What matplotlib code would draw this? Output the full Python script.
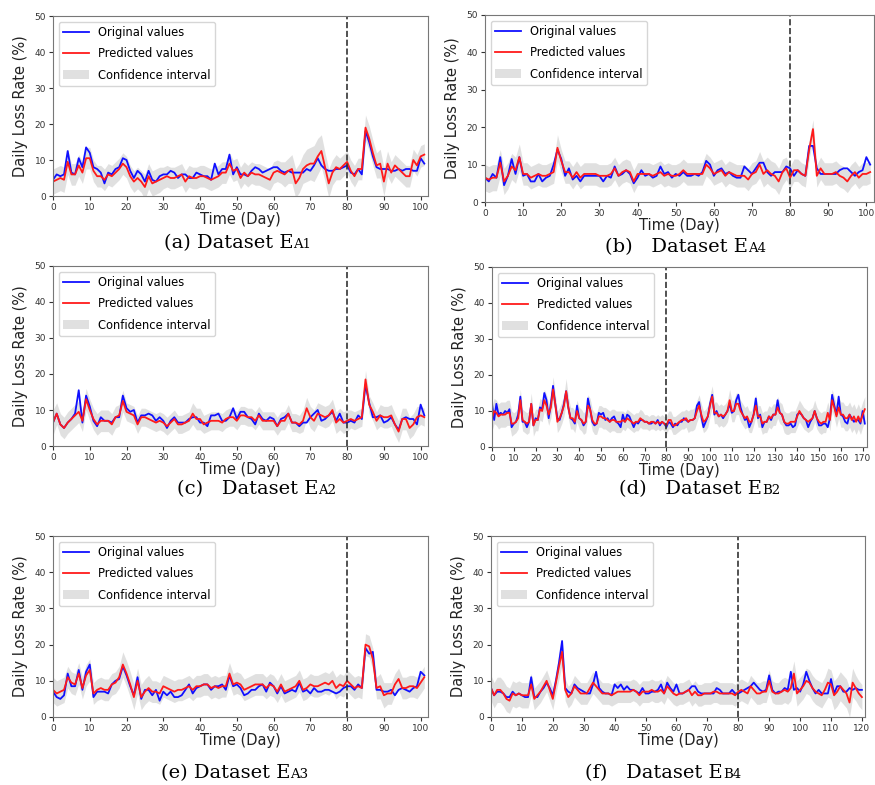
import numpy as np
import matplotlib
matplotlib.use('Agg')
import matplotlib.pyplot as plt

# ---- data (Daily Loss Rate, %) ----
a_orig = [4.5,6,5.5,6,12.5,6.5,6,10.5,8,13.5,
          12,8,7.5,6.5,3.5,6.5,6,7.5,8,10.5,
          10,7,5,7,6,4,7,4.5,4,5.5,
          6,6,7,6.5,5,6,6,5,5,6.5,
          6,5.5,5.5,4.5,9,6,7.5,7.5,11.5,6,
          8,6,6,5.5,7,8,7.5,6.5,7,7.5,
          8,8,7,6.5,7,6.5,6.5,6.5,6.5,7.5,
          7,8.5,10.5,8.5,7.5,7,7,7.5,7.5,8,
          8.5,6.5,6,7.5,6,18,15,11,8,7.5,
          7.5,7.5,7,7,7.5,7,7.5,7.5,7,7,
          10.5,9]
a_pred = [4,4.5,5,4.5,9.5,6,6,8.5,6.5,10.5,
          10.5,7,5.5,5.5,4.5,6,5.5,6.5,7.5,9,
          8,5.5,4,5,4,2.5,5.5,3.5,4,4.5,
          5,5.5,5,5,5.5,6,4,5.5,5,5,
          5.5,5.5,5,4.5,5,5.5,6.5,6.5,9,7,
          7.5,5,6.5,5.5,6.5,6,6,5.5,5,4.5,
          6.5,7,6.5,6,7,7.5,3.5,5,7.5,8.5,
          9,9,11,12.5,8,3.5,6.5,8,7.5,8.5,
          9.5,7,5.5,7.5,7.5,19,16,12,8.5,9,
          4,9,6.5,8.5,7.5,6.5,5.5,5.5,10,8.5,
          11,11.5]
a_hw = [3.5,3.5,3.5,3.5,3.5,3,3,3,3,3,
        3,3,3,3,3,3,3,3,3,3,
        3,3,3,3,3,3.5,3.5,3.5,3.5,3.5,
        3,3,3,3,3,3,3,3,3,3,
        3,3,3,3,3,3,3,3,3,3,
        3,3,3,3,3,3,3,3,3,3,
        3,3,3,3.5,3.5,4,4,4,4,4.5,
        4.5,5,5,4.5,4,4,3.5,3.5,3,3,
        3,3,3,3,3,3.5,3.5,3.5,3.5,4,
        4,3.5,3,3,3,3,3,3,3,3,
        3,3]

b_orig = [6.5,5.5,7.5,6.5,12,4.5,7,11.5,7.5,12,
          7,7.5,5.5,5.5,7.5,5.5,6.5,7,10,14,
          11.5,7,9,6,7,5.5,7,7,7,7,
          7,5.5,7,6.5,9.5,7,7.5,8.5,7.5,5,
          6.5,8.5,7,7.5,6.5,7,9.5,7.5,8,6.5,
          7.5,7,8,7,7,7.5,7,8,11,10,
          7,8.5,9,7.5,8,7,6.5,6.5,9.5,8.5,
          7.5,9,10.5,10.5,8,7,8,8,8,9.5,
          9,7,8.5,7.5,7,15,15,9,7.5,7.5,
          7.5,7.5,7.5,8.5,9,9,8,7,8,8.5,
          12,10]
b_pred = [6.5,6,6.5,6.5,10.5,5.5,7,9.5,8.5,12,
          7.5,7.5,6.5,7,7.5,7,7,7.5,8,14.5,
          11,8,8,6.5,8,6.5,7.5,7.5,7.5,7.5,
          7,7,7,7.5,9,7,8,8.5,8,5.5,
          7.5,7.5,7.5,7.5,7,7.5,8,7,7.5,7,
          7,7.5,8.5,7.5,7.5,7.5,7.5,7.5,10,9,
          7.5,8,8.5,7,8,7.5,7,7,7,6,
          7.5,8,10,7.5,8.5,7.5,7,5.5,8,9,
          6.5,8.5,8.5,7.5,7,14,19.5,7,9,7.5,
          7.5,7.5,8,7,6.5,5.5,7,8,6.5,7.5,
          7.5,8]
b_hw = [3.5,3.5,3.5,3.5,3.5,3.5,3.5,3.5,3.5,3.5,
        3,3,3,3,3,3,3,3,3,3.5,
        3,3,3,3,3,3,3,3,3,3,
        3,3,3,3,3,3,3,3,3,3,
        3,3,3,3,3,3,3,3,3,3,
        3,3,3,3,3,3,3,3,3,3,
        3,3,3,3,3,3,3,3,3,3,
        3,3,3.5,3.5,3.5,3.5,3.5,3.5,3.5,3,
        3,3,3,3,3,2.5,2.5,3,3,3,
        3,3,3,3,3,3,3,3,3,3,
        3,3]

c_orig = [6.5,9,6,5,6.5,7.5,9,15.5,6.5,14,
          11,7,5.5,8,7,7,6.5,8,8,14,
          10.5,9.5,10,6.5,8.5,8.5,9,8.5,7,8,
          7,5,7,8,6.5,6.5,6.5,7.5,8,8,
          6.5,6.5,5.5,8.5,8.5,9,7,7,8,10.5,
          7.5,9.5,9.5,8,7.5,6,9,7.5,7,8,
          7.5,5.5,7.5,8,9,6.5,6.5,5.5,6.5,6.5,
          8,9,10,7,7.5,8.5,9.5,7,9,6.5,
          6.5,7,6.5,8.5,7.5,17,12,8,8,8.5,
          6.5,7,8,6,4.5,7.5,8,7.5,7.5,6,
          11.5,8.5]
c_pred = [6.5,9,6,5,6.5,7.5,8.5,9.5,7,13,
          10,7.5,6,7,7,7,6,8,8.5,12.5,
          9.5,9,8.5,6,8,8,7.5,7,6.5,7,
          6.5,5.5,6.5,7.5,6,6,6.5,7,9,7.5,
          7.5,6,6.5,7,7,7,6.5,7.5,8,8,
          7,8.5,8.5,8,8,7,8.5,7,7,7,
          7,5.5,7,7,9,6.5,6.5,6,7,10.5,
          8,7,9,8.5,8,8.5,10,6.5,7.5,6.5,
          7,7.5,7,7.5,8,18.5,11.5,9.5,7,8.5,
          8,8,8.5,6,4,7.5,7.5,5,6,8,
          8.5,8]
c_hw = [3.5,3,3,3,3,3,3,3,3,3,
        3,3,3,3,3,3,3,3,3,3,
        2.5,2.5,2.5,2.5,2.5,2.5,2.5,2.5,2.5,2.5,
        2.5,2.5,2.5,2.5,2.5,2.5,2.5,2.5,3,3,
        3,2.5,2.5,2.5,2.5,2.5,2.5,2.5,2.5,2.5,
        2.5,2.5,2.5,2.5,2.5,2.5,2.5,2.5,2.5,2.5,
        2.5,2.5,2.5,2.5,2.5,2.5,2.5,2.5,3,3,
        3,3,3,3,3,3,3,3,3,3,
        3,2.5,2.5,2.5,2.5,2.5,2.5,2.5,2.5,3,
        3,3,3,3,3,3,3,3,3,3,
        2.5,2.5]

d_orig = [12,7.5,12,9,9.5,9,10,9.5,10.5,5.5,
          6.5,7,9,14,7,7,5.5,7,12,6,
          8,7.5,11,10.5,15,13,8,12,17,12,
          8,7.5,9.5,12,15.5,11,8,7.5,6.5,11.5,
          8,7.5,6,7,13.5,10.5,7,6,6.5,9.5,
          9,9.5,7.5,8,7,8,8.5,7,6.5,5.5,
          9,7,9,8.5,7,5.5,7,6.5,7.5,7.5,
          7,7,6.5,6.5,7,6.5,7.5,6,7,6.5,
          5.5,7,6.5,5.5,6.5,6,7,7,8,7.5,
          7,7.5,7.5,8,11.5,12.5,8.5,5.5,7,8.5,
          12,14.5,9,10,8.5,9,8,9,10,12,
          9.5,10,13,14.5,11,9,7.5,8,5.5,7,
          9,13.5,8,9,5.5,7,7,8.5,7.5,9,
          9,13,9.5,9,7,6,6,6.5,5.5,6,
          9,9.5,9,8,7.5,5.5,7,8,10,8,
          6,6,6.5,6.5,5.5,8,14.5,11.5,9,14,
          9,8.5,7,6.5,9,8,7,7.5,7.5,6.5,
          10,6.5]
d_pred = [8,10,9.5,8.5,9,9,9,9.5,9.5,6.5,
          6.5,7,8,13,7.5,7,6.5,7,12,6,
          7.5,7.5,10.5,10,13,11.5,9,11,16,12,
          7,8,9.5,11.5,15.5,11,8,8,7,10,
          8,7.5,6.5,7,11.5,10.5,7.5,6.5,6.5,8.5,
          8.5,8,8,7.5,7,7.5,7.5,7,7,7,
          7.5,7,8,7.5,7,6.5,7,7,8,7.5,
          7,7,6.5,7,7,6.5,7,6.5,7,6.5,
          6,7.5,7.5,6,6,6.5,7,7.5,7.5,8,
          7,7.5,7.5,8,10,11.5,9,7,7.5,8.5,
          11.5,14,9.5,9.5,8.5,9,8.5,9,10,13,
          10,10,12,12,10,9,8,8.5,7,7,
          9,11.5,8.5,8.5,6.5,7,7,8.5,8,9,
          9,11,9.5,9,7,6.5,6.5,7,7,7,
          8.5,10,9,8,7.5,7,7.5,8,10,8,
          7,6.5,7,7,9.5,7.5,13,11,8.5,11,
          9,9,8,8,9,7.5,8.5,7,8.5,7,
          9,10.5]
d_hw = [3.5,3.5,3.5,3.5,3.5,3.5,3.5,3.5,3.5,3.5,
        3,3,3,3,3,3,3,3,3,3,
        3,3,3,3,3,3,3,3,3.5,3,
        3,3,3,3,3.5,3,3,3,3,3,
        3,3,3,3,3,3,3,3,3,3,
        3,3,3,3,3,3,3,3,3,3,
        2.5,2.5,2.5,2.5,2.5,2.5,2.5,2.5,2.5,2.5,
        2,2,2,2,2,2,2,2,2,2,
        2.5,2.5,2.5,2.5,2.5,2.5,2.5,2.5,2.5,2.5,
        3,3,3,3,3,3,3,3,3,3,
        3,3,3,3,3,3,3,3,3,3,
        3,3,3,3,3,3,3,3,3,3,
        3,3,3,3,3,3,3,3,3,3,
        3,3,3,3,3,3,3,3,3,3,
        3,3,3,3,3,3,3,3,3,3,
        3,3,3,3,3,3,3,3,3,3,
        3.5,3.5,3.5,3.5,3.5,3.5,3.5,3.5,3.5,3.5,
        3.5,3.5]

e_orig = [7,5.5,5,6,12,8.5,8.5,13,7.5,12.5,
          14.5,5.5,7,7,7,6.5,9,10,10.5,14,
          11.5,8.5,6,11,5,7.5,7.5,6,7.5,4.5,
          7,6,7,5.5,5.5,6,7.5,9,6.5,8,
          8.5,9,9,7.5,8.5,8.5,9,7.5,11.5,8.5,
          9,8,6,6.5,7.5,7.5,8.5,9,7,9.5,
          8.5,6.5,8.5,6.5,7,7.5,7,9.5,7,7.5,
          6.5,8,7,7,7.5,7.5,7,6.5,7,8,
          8.5,8.5,7.5,9,8,19,17.5,18,7.5,7.5,
          7,7,7.5,6,7.5,8,7.5,7,8,8.5,
          12.5,11.5]
e_pred = [7.5,6.5,7,7.5,11,9.5,9,12,8,11.5,
          13,6.5,7.5,8,7.5,7.5,9,9.5,11,14.5,
          12,9,5.5,10,5.5,7,8,7,7,6.5,
          8.5,8,7.5,7,7.5,7.5,8,8.5,7.5,8.5,
          8.5,9,9,8,8.5,8,8.5,8.5,12,9,
          9.5,9,7.5,8,8.5,9,9,9,8,9,
          8.5,7,9,7,7.5,8,8.5,10,7.5,8,
          9,8.5,8.5,9,9.5,9,10,8,9,8.5,
          10,9,8,8.5,8,20,19.5,16,8,8.5,
          6,6.5,6.5,9,10.5,8,8,8.5,8.5,8,
          9.5,11]
e_hw = [3.5,3.5,3.5,3.5,3,3,3,3,3,3,
        3,3,3,3,3,3,3,3,3,3.5,
        3.5,3.5,3.5,3.5,3.5,3.5,3.5,3,3,3,
        3,3,3,3,3,3,3,3,3,3,
        3,3,3,3,3,3,3,3,3,3,
        3,3,3,3,3,3,3,3,3,3,
        3,3,3,3,3,3,3,3,3,3,
        3,3,3,3,3,3,3,3,3,3,
        3,3,3,3,3,3,3,3,3,3.5,
        3.5,3,3,3,3,3,3,3,3,3,
        3,3]

f_orig = [8,6,7,7,6.5,5.5,5.5,7,6,6.5,
          6,5.5,5.5,11,5.5,5.5,7,8,9.5,8,
          6,10,15,21,8,7,6.5,9,8,7.5,
          7,6.5,6.5,9,12.5,8,7,6.5,6.5,6,
          9,8,9,7.5,8.5,7.5,7.5,7,6.5,8,
          6.5,6.5,7,7,7.5,9,6.5,9.5,8,7,
          9,6.5,6.5,7,7.5,8.5,8.5,7,6.5,6.5,
          6.5,6.5,6.5,8,7.5,6.5,6.5,6.5,7.5,6.5,
          6.5,7,7.5,8,8.5,9.5,8.5,7.5,7,7.5,
          11.5,7.5,6.5,7,7,8,7.5,12.5,7.5,8,
          7,9,12.5,10,8,6.5,7.5,6.5,6.5,6.5,
          10.5,6.5,8.5,8.5,7,7,8,7.5,8,7.5,
          7.5]
f_pred = [8,6,7.5,7.5,6.5,5,4.5,6.5,6,6.5,
          6,6,6,9,5,6,7,8.5,10,7.5,
          5,9.5,14,18,7.5,5.5,6.5,8.5,7.5,6.5,
          6.5,6.5,8,9.5,8.5,7.5,6.5,6.5,6.5,6,
          6.5,7,7,7,7,7,7.5,7,6,7,
          7,7,7.5,7,7,7.5,6.5,8.5,7.5,6.5,
          6,6.5,6.5,7,7.5,6,7,6,6,6.5,
          6.5,6.5,7,7,6.5,6.5,6.5,6.5,6.5,6,
          7,7.5,7,6.5,8.5,7.5,6.5,6.5,7,7,
          10,7,6.5,6.5,7,7.5,7,8,12,6.5,
          7.5,8.5,10,9.5,8,7,6.5,6,7.5,9.5,
          9,6,7,8.5,7.5,6.5,4,9.5,8,6.5,
          5.5]
f_hw = [3.5,3.5,3.5,3.5,3.5,3.5,3.5,3.5,3.5,3.5,
        3.5,3.5,3.5,3,3,3,3,3,3,3,
        3,3,3.5,3.5,3,3,3,3,3,3,
        3,3,3,3,3,3,3,3,3,3,
        3,3,3,3,3,3,3,3,3,3,
        3,3,3,3,3,3,3,3,3,3,
        3,3,3,3,3,3,3,3,3,3,
        3,3,3,3,3,3,3,3,3,3,
        3,3,3,3,3,3,3,3,3,3,
        3,3,3,3,3.5,3.5,3.5,3.5,3.5,3.5,
        3.5,3.5,3.5,3.5,3.5,3.5,3.5,3.5,3.5,4,
        4,4,4,4,4,4,4,4,3.5,3.5,
        3.5]

panels = [(a_orig, a_pred, a_hw), (b_orig, b_pred, b_hw),
          (c_orig, c_pred, c_hw), (d_orig, d_pred, d_hw),
          (e_orig, e_pred, e_hw), (f_orig, f_pred, f_hw)]
x_max = [102, 102, 102, 172, 102, 121]
split_day = 80
cap_main = ['(a) Dataset E', '(b)   Dataset E', '(c)   Dataset E',
            '(d)   Dataset E', '(e) Dataset E', '(f)   Dataset E']
cap_sub = ['A1', 'A4', 'A2', 'B2', 'A3', 'B4']

# axes boxes in pixels: left, top, right, bottom
W, H = 875, 785
boxes = [(53, 16, 428, 196), (485, 15, 874, 202),
         (53, 266, 428, 446), (492, 267, 867, 447),
         (53, 536, 428, 717), (491, 536, 865, 717)]
# caption: x where "E" ends, baseline y
cap_pos = [(293, 248), (748, 252), (318, 494), (762, 494), (290, 778), (723, 778)]

fig = plt.figure(figsize=(W / 100, H / 100), dpi=100)

for i, (orig, pred, hw) in enumerate(panels):
    l, t, r, b = boxes[i]
    ax = fig.add_axes([l / W, 1 - b / H, (r - l) / W, (b - t) / H])
    days = np.arange(len(orig))
    pred = np.array(pred)
    hw = np.array(hw)
    ax.fill_between(days, pred - hw, pred + hw, color='#c8c8c8', alpha=0.55,
                    linewidth=0, label='Confidence interval')
    ax.plot(days, orig, color='#1010ff', lw=1.3, label='Original values')
    ax.plot(days, pred, color='#ff1a1a', lw=1.3, label='Predicted values')
    ax.axvline(split_day, color='#333333', lw=1.2, ls='--')

    ax.set_xlim(0, x_max[i])
    ax.set_ylim(0, 50)
    ax.set_yticks(range(0, 51, 10))
    ax.set_xticks(range(0, x_max[i], 10))
    ax.tick_params(labelsize=6.5, colors='#333333', length=3, width=0.8, pad=2)
    for s in ax.spines.values():
        s.set_color('#777777')
    ax.set_xlabel('Time (Day)', fontsize=10.5, color='#222222', labelpad=0)
    ax.set_ylabel('Daily Loss Rate (%)', fontsize=10.5, color='#222222', labelpad=5)

    # legend order: original, predicted, interval
    h, lab = ax.get_legend_handles_labels()
    order = [1, 2, 0]
    ax.legend([h[k] for k in order], [lab[k] for k in order], loc='upper left',
              fontsize=8.3, frameon=True, borderaxespad=0.5, handlelength=2.2,
              labelspacing=0.7)

    cx, cy = cap_pos[i]
    fig.text(cx / W, 1 - cy / H, cap_main[i], ha='right', va='baseline',
             family='DejaVu Serif', fontsize=14)
    fig.text(cx / W, 1 - cy / H, cap_sub[i], ha='left', va='baseline',
             family='DejaVu Serif', fontsize=9.5)

plt.savefig('out.png', dpi=100)
plt.close()
